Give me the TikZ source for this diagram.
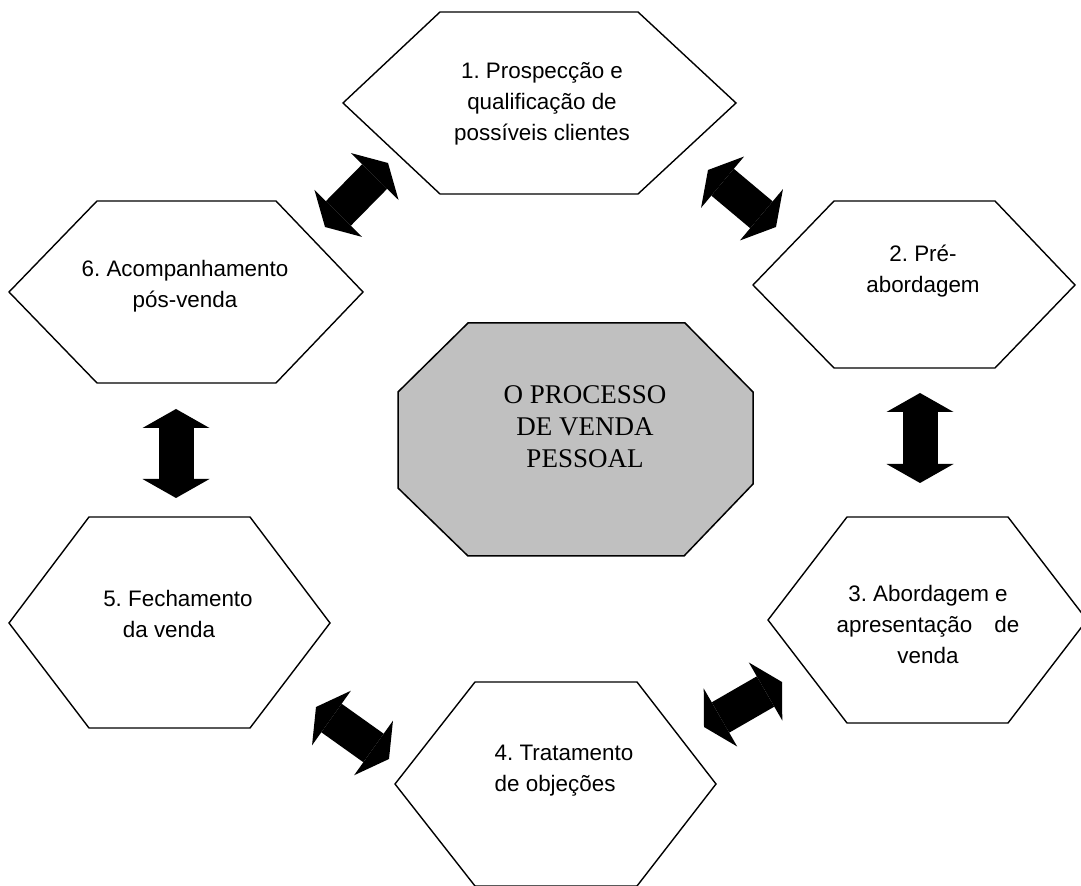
\documentclass[tikz,border=0pt]{standalone}
\usepackage{fontspec}
\setmainfont{Liberation Sans}
\newfontfamily\timesfont{Liberation Serif}
\usetikzlibrary{arrows.meta}
\frenchspacing

\begin{document}
\begin{tikzpicture}[x=0.5pt,y=-0.5pt,
    hexa/.style={draw,line width=0.7pt,fill=white},
    passo/.style={align=center,inner sep=0pt,font=\fontsize{11.2}{15.5}\selectfont},
    seta/.style={line width=17.5pt,>={Triangle[width=33.5pt,length=9.5pt,line width=0pt]},<->}]
            \useasboundingbox (0,0) rectangle (1081,886);

            % centro
            \draw[line width=0.75pt,fill={rgb,255:red,192;green,192;blue,192}] (468,323) -- (685,323) -- (753,392) -- (753,484) -- (684,556) -- (468,556) -- (398,488) -- (398,392) -- cycle;
            \node[align=center,inner sep=0pt,font=\timesfont\fontsize{13.5}{16}\selectfont] (centro) at (585,427) {O PROCESSO\\DE VENDA\\PESSOAL};

            % etapas
            \draw[hexa] (343,103) -- (440,12) -- (638,12) -- (736,103) -- (638,194) -- (440,194) -- cycle;
            \draw[hexa] (753,285) -- (834,201) -- (995,201) -- (1075,285) -- (995,368) -- (834,368) -- cycle;
            \draw[hexa] (768,620) -- (847,517) -- (1008,517) -- (1087,620) -- (1008,723) -- (847,723) -- cycle;
            \draw[hexa] (395,784) -- (475,682) -- (637,682) -- (716,784) -- (637,886) -- (475,886) -- cycle;
            \draw[hexa] (9,623) -- (89,517) -- (250,517) -- (330,623) -- (250,728) -- (89,728) -- cycle;
            \draw[hexa] (9,292) -- (97,201) -- (276,201) -- (363,292) -- (276,383) -- (97,383) -- cycle;

            \node[passo] (p1) at (542,104) {1. Prospecção e\\qualificação de\\possíveis clientes};
            \node[passo] (p2) at (923,271) {2. Pré-\\abordagem};
            \node[passo] (p3) at (928,624) {3. Abordagem e\\apresentação\hspace{11pt}de\\venda};
            \node[passo,align=left] (p4) at (564,771) {4. Tratamento\\de objeções};
            \node[passo] (p5) at (178,614) {5. Fechamento\\da venda\hspace*{9pt}};
            \node[passo] (p6) at (185,286) {6. Acompanhamento\\pós-venda};

            % setas
            \coordinate (a61) at (325,227);
            \coordinate (a16) at (388,163);
            \coordinate (a12) at (708,170);
            \coordinate (a21) at (776,227);
            \coordinate (a23) at (920,393);
            \coordinate (a32) at (920,483);
            \coordinate (a34) at (782,682);
            \coordinate (a43) at (704,727);
            \coordinate (a45) at (389,759);
            \coordinate (a54) at (316,707);
            \coordinate (a56) at (176,498);
            \coordinate (a65) at (176,409);

            \draw[seta] (a61) -- (a16);
            \draw[seta] (a12) -- (a21);
            \draw[seta] (a23) -- (a32);
            \draw[seta] (a34) -- (a43);
            \draw[seta] (a45) -- (a54);
            \draw[seta] (a56) -- (a65);
          \end{tikzpicture}
\end{document}
